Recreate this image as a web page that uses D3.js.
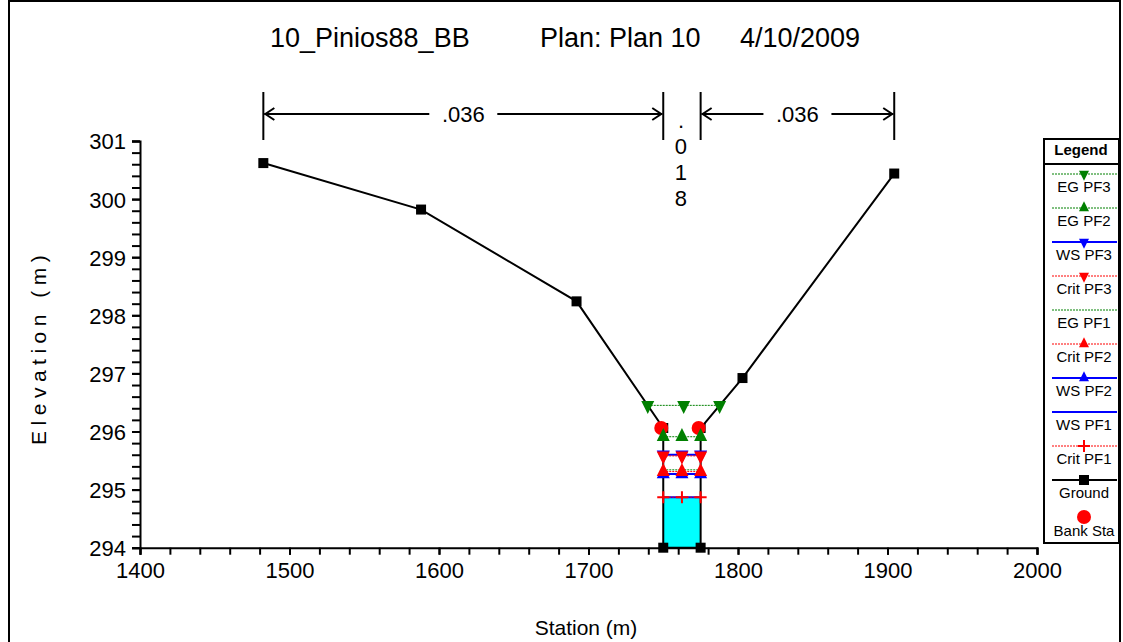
<!DOCTYPE html>
<html>
<head>
<meta charset="utf-8">
<script src="https://cdn.jsdelivr.net/npm/d3@7"></script>
<style>
  body { margin: 0; background: #fff; }
  svg { font-family: "Liberation Sans", Arial, sans-serif; }
</style>
</head>
<body>
<div id="chart"></div>
<script>
const W = 1123, H = 642;
const margin = {top: 141, right: 86, bottom: 94, left: 140};

// ground geometry
const groundSta = [1482.5, 1588, 1692, 1750, 1750, 1775, 1775, 1803, 1904.5];
const groundElev = [300.62, 299.82, 298.24, 296.06, 294.0, 294.0, 296.06, 296.92, 300.44];
const bankSta = [1750, 1775];
const bankElev = [296.06, 296.06];

// manning's n
const nSta = [1482.5, 1750, 1775, 1904.5];
const nVal = [".036", ".018", ".036"];

// profiles (legend order)
const profNames = ["EG PF3", "EG PF2", "WS PF3", "Crit PF3", "EG PF1", "Crit PF2", "WS PF2", "WS PF1", "Crit PF1"];
const profElev  = [296.45, 295.91, 295.60, 295.58, 295.34, 295.31, 295.27, 294.87, 294.87];
const profKind  = ["EG", "EG", "WS", "Crit", "EG", "Crit", "WS", "WS", "Crit"];
const profMark  = ["down", "up", "down", "down", "none", "up", "up", "none", "plus"];

const xTicks = [1400, 1500, 1600, 1700, 1800, 1900, 2000];
const yTicks = [294, 295, 296, 297, 298, 299, 300, 301];

const titleParts = ["10_Pinios88_BB", "Plan: Plan 10", "4/10/2009"];

const kindStyle = {
  EG:   {color: "#008000", width: 1, dash: "2,1"},
  WS:   {color: "#0000ff", width: 2, dash: null},
  Crit: {color: "#ff0000", width: 1, dash: "2,1"}
};

let svg = d3.select("#chart").append("svg")
  .attr("width", W).attr("height", H);

svg.append("rect")
  .attr("x", 9).attr("y", 1).attr("width", 1111).attr("height", 660)
  .attr("fill", "none").attr("stroke", "#000").attr("stroke-width", 2);

let x = d3.scaleLinear().domain([1400, 2000]).range([margin.left, 1037]);
let y = d3.scaleLinear().domain([294, 301]).range([547.7, 141]);

// title
[270, 540, 740].forEach((tx, i) => {
  svg.append("text")
    .attr("x", tx).attr("y", 47)
    .style("font-size", "27px")
    .text(titleParts[i]);
});

// water surface extent from ground
let ground = groundSta.map((s, i) => ({s: s, e: groundElev[i]}));
let minI = d3.minIndex(ground, d => d.e);
function extent(elev) {
  let l = minI, r = minI;
  while (l > 0 && ground[l - 1].e < elev) l--;
  while (r < ground.length - 1 && ground[r + 1].e < elev) r++;
  let a = ground[l - 1], b = ground[l];
  let sl = a.s + (elev - a.e) / (b.e - a.e) * (b.s - a.s);
  let c = ground[r], d = ground[r + 1];
  let sr = c.s + (elev - c.e) / (d.e - c.e) * (d.s - c.s);
  return {l: sl, r: sr, li: l, ri: r};
}

// cyan water fill below WS PF1
let ws1 = profElev[profNames.indexOf("WS PF1")];
let ext1 = extent(ws1);
let fillPts = [[ext1.l, ws1]];
for (let i = ext1.li; i <= ext1.ri; i++) fillPts.push([ground[i].s, ground[i].e]);
fillPts.push([ext1.r, ws1]);
svg.append("path")
  .attr("d", d3.line().x(d => x(d[0])).y(d => y(d[1]))(fillPts) + "Z")
  .attr("fill", "#00ffff");

// axes
svg.append("g").attr("transform", `translate(0,${y(294)})`)
  .call(d3.axisBottom(x).tickValues(d3.range(1400, 2001, 20)).tickSize(7).tickFormat(""));
let xAxisLab = svg.append("g").attr("transform", `translate(0,${y(294)})`)
  .call(d3.axisBottom(x).tickValues(xTicks).tickSize(7).tickPadding(8).tickFormat(d3.format("d")));
svg.append("g").attr("transform", `translate(${x(1400)},0)`)
  .call(d3.axisLeft(y).tickValues(d3.range(294, 301.01, 0.2)).tickSize(8).tickFormat(""));
let yAxisLab = svg.append("g").attr("transform", `translate(${x(1400)},0)`)
  .call(d3.axisLeft(y).tickValues(yTicks).tickSize(8).tickPadding(6).tickFormat(d3.format("d")));
svg.selectAll(".domain").attr("stroke-width", 2);
svg.selectAll(".tick line").attr("stroke-width", 2);
svg.selectAll(".tick text").style("font-size", "22px").attr("fill", "#000")
  .style("font-family", "Liberation Sans, Arial, sans-serif");
xAxisLab.selectAll(".domain").remove();
yAxisLab.selectAll(".domain").remove();
yAxisLab.selectAll(".tick text").attr("dy", "0.36em");

svg.append("text")
  .attr("x", 586).attr("y", 635).attr("text-anchor", "middle")
  .style("font-size", "21px").text("Station (m)");
svg.append("text")
  .attr("transform", `translate(46,${y(297.5) + 3}) rotate(-90)`)
  .attr("text-anchor", "middle")
  .style("letter-spacing", "5.5px")
  .style("font-size", "21px").text("Elevation (m)");

// manning's n bars
let nG = svg.append("g").attr("stroke", "#000").attr("stroke-width", 2);
nSta.forEach(s => {
  nG.append("line").attr("x1", x(s)).attr("x2", x(s)).attr("y1", 92).attr("y2", 140);
});
let arrowY = 114;
nVal.forEach((v, i) => {
  let x0 = x(nSta[i]), x1 = x(nSta[i + 1]);
  if (x1 - x0 < 60) {
    v.split("").forEach((ch, k) => {
      svg.append("text").attr("x", (x0 + x1) / 2 - 1).attr("y", 128 + k * 26)
        .attr("text-anchor", "middle").style("font-size", "22px").text(ch);
    });
    return;
  }
  let mid = (x0 + x1) / 2;
  let half = 34;
  nG.append("line").attr("x1", x0 + 1).attr("x2", mid - half).attr("y1", arrowY).attr("y2", arrowY);
  nG.append("line").attr("x1", mid + half).attr("x2", x1 - 1).attr("y1", arrowY).attr("y2", arrowY);
  nG.append("path").attr("fill", "none")
    .attr("d", `M${x0 + 11},${arrowY - 6}L${x0 + 2},${arrowY}L${x0 + 11},${arrowY + 6}`);
  nG.append("path").attr("fill", "none")
    .attr("d", `M${x1 - 11},${arrowY - 6}L${x1 - 2},${arrowY}L${x1 - 11},${arrowY + 6}`);
  svg.append("text").attr("x", mid).attr("y", arrowY + 8)
    .attr("text-anchor", "middle").style("font-size", "22px").text(v);
});

// ground line
svg.append("path")
  .attr("d", d3.line().x(d => x(d.s)).y(d => y(d.e))(ground))
  .attr("fill", "none").attr("stroke", "#000").attr("stroke-width", 2);

// profile lines
profNames.forEach((name, i) => {
  let st = kindStyle[profKind[i]];
  let ex = extent(profElev[i]);
  svg.append("line")
    .attr("x1", x(ex.l)).attr("x2", x(ex.r))
    .attr("y1", y(profElev[i])).attr("y2", y(profElev[i]))
    .attr("stroke", st.color).attr("stroke-width", st.width)
    .attr("stroke-dasharray", st.dash);
});

function marker(g, type, cx, cy, color, sz) {
  let s = sz || 13;
  if (type === "down") {
    g.append("path").attr("d", `M${cx - s / 2},${cy - s / 3}L${cx + s / 2},${cy - s / 3}L${cx},${cy + s * 2 / 3}Z`).attr("fill", color);
  } else if (type === "up") {
    g.append("path").attr("d", `M${cx - s / 2},${cy + s / 3}L${cx + s / 2},${cy + s / 3}L${cx},${cy - s * 2 / 3}Z`).attr("fill", color);
  } else if (type === "plus") {
    g.append("path").attr("d", `M${cx - 6},${cy}H${cx + 6}M${cx},${cy - 6}V${cy + 6}`)
      .attr("stroke", color).attr("stroke-width", 2);
  } else if (type === "square") {
    g.append("rect").attr("x", cx - 5).attr("y", cy - 5).attr("width", 10).attr("height", 10).attr("fill", color);
  } else if (type === "circle") {
    g.append("circle").attr("cx", cx).attr("cy", cy).attr("r", 7).attr("fill", color);
  }
}

// ground markers and bank stations
let mg = svg.append("g");
ground.forEach(d => marker(mg, "square", x(d.s), y(d.e), "#000"));
bankSta.forEach((s, i) => marker(mg, "circle", x(s) - 2, y(bankElev[i]), "#ff0000"));

// profile markers: blue first, then green, then red
["WS", "EG", "Crit"].forEach(kind => {
  profNames.forEach((name, i) => {
    if (profKind[i] !== kind || profMark[i] === "none") return;
    let ex = extent(profElev[i]);
    [ex.l, (ex.l + ex.r) / 2, ex.r].forEach(s =>
      marker(mg, profMark[i], x(s), y(profElev[i]), kindStyle[kind].color));
  });
});

// legend
let lg = svg.append("g");
lg.append("rect").attr("x", 1044).attr("y", 139).attr("width", 75).attr("height", 404)
  .attr("fill", "#fff").attr("stroke", "#000").attr("stroke-width", 2);
lg.append("line").attr("x1", 1044).attr("x2", 1119).attr("y1", 164).attr("y2", 164)
  .attr("stroke", "#000").attr("stroke-width", 2);
lg.append("text").attr("x", 1081).attr("y", 155).attr("text-anchor", "middle")
  .style("font-size", "15px").style("font-weight", "bold").text("Legend");

let legNames = profNames.concat(["Ground", "Bank Sta"]);
legNames.forEach((name, i) => {
  let ly = 174 + i * 34;
  let cx = 1084;
  if (name === "Bank Sta") {
    marker(lg, "circle", cx, ly + 3, "#ff0000");
  } else if (name === "Ground") {
    lg.append("line").attr("x1", 1052).attr("x2", 1117).attr("y1", ly).attr("y2", ly)
      .attr("stroke", "#000").attr("stroke-width", 2);
    marker(lg, "square", cx, ly, "#000");
  } else {
    let st = kindStyle[profKind[i]];
    lg.append("line").attr("x1", 1052).attr("x2", 1117).attr("y1", ly).attr("y2", ly)
      .attr("stroke", st.color).attr("stroke-width", st.width)
      .attr("stroke-dasharray", st.dash);
    if (profMark[i] !== "none") {
      marker(lg, profMark[i], cx, ly, st.color, 10);
    }
  }
  lg.append("text").attr("x", cx).attr("y", ly + (name === "Bank Sta" ? 22 : 18))
    .attr("text-anchor", "middle").style("font-size", "15px").text(name);
});
</script>
</body>
</html>
